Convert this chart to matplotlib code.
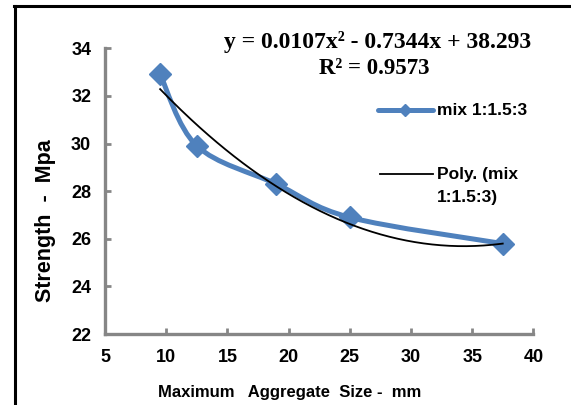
import numpy as np
import matplotlib
matplotlib.use("Agg")
import matplotlib.pyplot as plt
from matplotlib.path import Path
from matplotlib.patches import PathPatch
from matplotlib.lines import Line2D

# data
agg_size = [9.5, 12.5, 19, 25, 37.5]
strength = [32.9, 29.9, 28.3, 26.9, 25.8]
poly_coef = [0.0107, -0.7344, 38.293]  # Excel trendline, order 2
r_squared = 0.9573
series_name = "mix 1:1.5:3"
trend_name = ["Poly. (mix", "1:1.5:3)"]
x_ticks = [5, 10, 15, 20, 25, 30, 35, 40]
y_ticks = [22, 24, 26, 28, 30, 32, 34]

blue = "#4F81BD"
grey = "#868686"
plt.rcParams['font.family'] = ['Liberation Sans', 'DejaVu Sans']

fig = plt.figure(figsize=(5.71, 4.05), dpi=100)
ax = fig.add_axes([0.184, 0.175, 0.750, 0.706])


def smooth_path(xs, ys):
    # Catmull-Rom style bezier, like Excel's "smoothed line"
    pts = np.column_stack([xs, ys]).astype(float)
    n = len(pts)
    verts = [pts[0]]
    codes = [Path.MOVETO]
    for i in range(n - 1):
        p0 = pts[i - 1] if i > 0 else pts[i]
        p1 = pts[i]
        p2 = pts[i + 1]
        p3 = pts[i + 2] if i + 2 < n else pts[i + 1]
        c1 = p1 + (p2 - p0) / 6.0
        c2 = p2 - (p3 - p1) / 6.0
        verts += [c1, c2, p2]
        codes += [Path.CURVE4] * 3
    return Path(verts, codes)


ax.add_patch(PathPatch(smooth_path(agg_size, strength), facecolor='none',
                       edgecolor=blue, lw=3.6, capstyle='round', zorder=2))
ax.plot(agg_size, strength, ls='none', marker='D', ms=11, color=blue, zorder=3)

# polynomial trendline
xf = np.linspace(min(agg_size), max(agg_size), 200)
ax.plot(xf, np.polyval(poly_coef, xf), color='black', lw=1.3, zorder=4)

ax.set_xlim(5, 40)
ax.set_ylim(22, 34)
ax.set_xticks(x_ticks)
ax.set_yticks(y_ticks)
for s in ['top', 'right']:
    ax.spines[s].set_visible(False)
for s in ['left', 'bottom']:
    ax.spines[s].set_color(grey)
    ax.spines[s].set_linewidth(2.4)
ax.tick_params(direction='in', length=4, width=2, color=grey, labelsize=13)
ax.tick_params(axis='x', pad=11)
ax.tick_params(axis='y', pad=10)
for lab in ax.get_xticklabels() + ax.get_yticklabels():
    lab.set_fontweight('bold')

fig.text(0.508, 0.032, "Maximum   Aggregate  Size -  mm", ha='center', va='center',
         fontsize=12, fontweight='bold')
fig.text(0.079, 0.455, "Strength  -  Mpa", ha='center', va='center', rotation=90,
         fontsize=15.5, fontweight='bold')

eq = "y = %.4fx² - %.4fx + %.3f" % (poly_coef[0], -poly_coef[1], poly_coef[2])
fig.text(0.662, 0.896, eq, ha='center', va='center', fontsize=17,
         fontweight='bold', family='Liberation Serif')
fig.text(0.655, 0.832, "R² = %.4f" % r_squared, ha='center', va='center', fontsize=16.5,
         fontweight='bold', family='Liberation Serif')

# legend, drawn by hand so the trendline key sits on the first text line
fig.add_artist(Line2D([0.662, 0.758], [0.728, 0.728], color=blue, lw=3.6,
                      transform=fig.transFigure, solid_capstyle='round'))
fig.add_artist(Line2D([0.710], [0.728], color=blue, marker='D', ms=6,
                      transform=fig.transFigure))
fig.text(0.765, 0.728, series_name, ha='left', va='center', fontsize=12.5,
         fontweight='bold')
fig.add_artist(Line2D([0.665, 0.758], [0.570, 0.570], color='black', lw=1.3,
                      transform=fig.transFigure))
fig.text(0.765, 0.570, trend_name[0], ha='left', va='center', fontsize=12.5,
         fontweight='bold')
fig.text(0.765, 0.513, trend_name[1], ha='left', va='center', fontsize=12.5,
         fontweight='bold')

# outer frame (left and top edges visible)
fig.add_artist(Line2D([0.026, 0.026], [0, 0.985], color='black', lw=2.2,
                      transform=fig.transFigure))
fig.add_artist(Line2D([0.024, 1.0], [0.985, 0.985], color='black', lw=2.2,
                      transform=fig.transFigure))

fig.savefig("out.png", dpi=100)
